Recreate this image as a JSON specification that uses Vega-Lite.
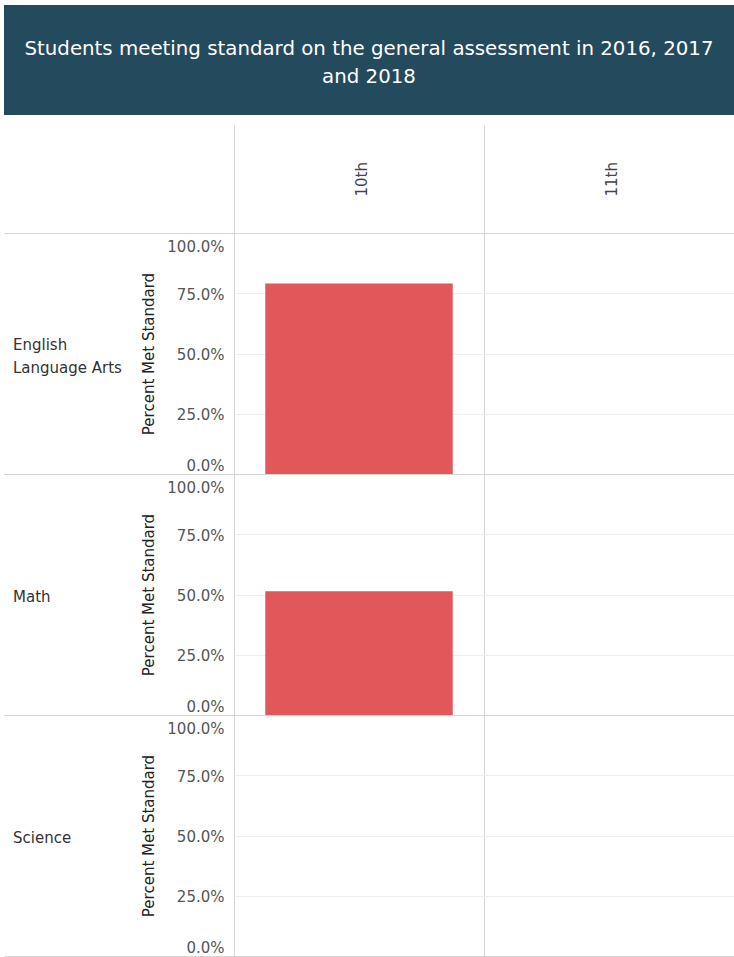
{
  "$schema": "https://vega.github.io/schema/vega-lite/v6.json",
  "padding": {"left": 4, "top": 5, "right": 0, "bottom": 0},
  "autosize": {"type": "pad"},
  "config": {
    "font": "DejaVu Sans",
    "view": {"stroke": null}
  },
  "datasets": {
    "scores": [
      {"Subject": "English Language Arts", "Grade": "10th", "Percent": 0.79},
      {"Subject": "English Language Arts", "Grade": "11th", "Percent": null},
      {"Subject": "Math", "Grade": "10th", "Percent": 0.513},
      {"Subject": "Math", "Grade": "11th", "Percent": null},
      {"Subject": "Science", "Grade": "10th", "Percent": null},
      {"Subject": "Science", "Grade": "11th", "Percent": null}
    ]
  },
  "spacing": 9,
  "vconcat": [
    {
      "width": 730,
      "height": 110,
      "view": {"fill": "#244A5E", "stroke": null},
      "data": {"values": [{"title": "Students meeting standard on the general assessment in 2016, 2017\nand 2018"}]},
      "mark": {"type": "text", "color": "#FFFFFF", "fontSize": 19.8, "lineHeight": 28, "lineBreak": "\n", "align": "center", "baseline": "middle", "dy": -11},
      "encoding": {"text": {"field": "title", "type": "nominal"}}
    },
    {
      "spacing": -7,
      "hconcat": [
        {
          "data": {"name": "scores"},
          "transform": [{"filter": "datum.Grade == '10th'"}],
          "facet": {
            "row": {"field": "Subject", "type": "nominal", "sort": ["English Language Arts", "Math", "Science"], "header": null}
          },
          "spacing": 0,
          "bounds": "flush",
          "resolve": {"scale": {"y": "independent"}},
          "spec": {
            "width": 230,
            "height": 241,
            "encoding": {
              "x": {"datum": 0, "type": "quantitative", "scale": {"domain": [0, 1]}, "axis": null},
              "y": {
                "datum": 0.5,
                "type": "quantitative",
                "scale": {"domain": [0, 1], "nice": false},
                "axis": {
                  "orient": "left",
                  "offset": -230,
                  "title": "Percent Met Standard",
                  "titleFontSize": 15,
                  "titleFontWeight": "normal",
                  "titleColor": "#222222",
                  "titlePadding": 10,
                  "format": ".1%",
                  "values": [0, 0.25, 0.5, 0.75, 1],
                  "labelFontSize": 15,
                  "labelColor": "#555555",
                  "labelPadding": 10,
                  "ticks": false,
                  "domain": false,
                  "grid": true,
                  "gridColor": "#d4d4d4",
                  "gridOpacity": {"condition": {"test": "datum.value == 0 || datum.value == 1", "value": 1}, "value": 0},
                  "labelOffset": {"condition": [{"test": "datum.value == 1", "value": 13}, {"test": "datum.value == 0", "value": -9}], "value": 1}
                }
              }
            },
            "layer": [
              {
                "transform": [{"filter": "datum.Subject == 'English Language Arts'"}],
                "mark": {"type": "text", "align": "left", "baseline": "middle", "dx": 9, "dy": -9, "fontSize": 15, "lineHeight": 23, "color": "#333333"},
                "encoding": {
                  "text": {
                    "condition": {"test": "datum.Subject == 'English Language Arts'", "value": ["English", "Language Arts"]},
                    "field": "Subject",
                    "type": "nominal"
                  }
                }
              },
              {
                "transform": [{"filter": "datum.Subject != 'English Language Arts'"}],
                "mark": {"type": "text", "align": "left", "baseline": "middle", "dx": 9, "dy": 2.5, "fontSize": 15, "lineHeight": 23, "color": "#333333"},
                "encoding": {
                  "text": {"field": "Subject", "type": "nominal"}
                }
              }
            ]
          }
        },
        {
          "data": {"name": "scores"},
          "facet": {
            "row": {"field": "Subject", "type": "nominal", "sort": ["English Language Arts", "Math", "Science"], "header": null}
          },
          "spacing": 0,
          "bounds": "flush",
          "resolve": {"scale": {"y": "independent"}},
          "spec": {
            "width": 500,
            "height": 241,
            "view": {"stroke": "#d4d4d4"},
            "mark": {"type": "bar", "color": "#E1575A", "width": {"band": 0.75}, "invalid": "show"},
            "encoding": {
              "x": {
                "field": "Grade",
                "type": "nominal",
                "scale": {"domain": ["10th", "11th"], "paddingInner": 0, "paddingOuter": 0},
                "axis": {
                  "orient": "top",
                  "title": null,
                  "tickBand": "extent",
                  "ticks": true,
                  "tickSize": 108,
                  "tickColor": "#d4d4d4",
                  "domain": false,
                  "grid": true,
                  "gridColor": "#d4d4d4",
                  "labelAngle": -90,
                  "labelAlign": "left",
                  "labelBaseline": "middle",
                  "labelPadding": -71,
                  "labelOffset": 2,
                  "labelFontSize": 15,
                  "labelColor": "#444444"
                }
              },
              "y": {
                "field": "Percent",
                "type": "quantitative",
                "scale": {"domain": [0, 1], "nice": false},
                "axis": {
                  "title": null,
                  "labels": false,
                  "ticks": false,
                  "domain": false,
                  "minExtent": 0,
                  "maxExtent": 0,
                  "offset": 0,
                  "grid": true,
                  "gridColor": "#eeeeee",
                  "values": [0.25, 0.5, 0.75]
                }
              }
            }
          }
        }
      ]
    }
  ]
}
